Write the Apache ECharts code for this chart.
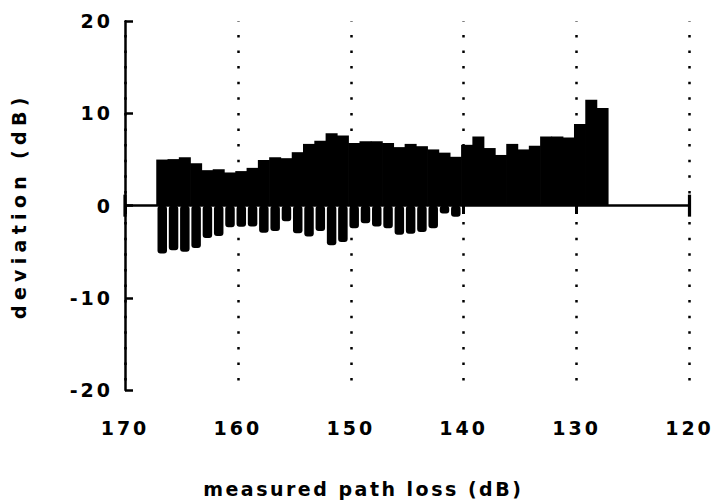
<!DOCTYPE html>
<html><head><meta charset="utf-8">
<script src="https://cdn.jsdelivr.net/npm/echarts@6/dist/echarts.min.js"></script>
<style>
html,body{margin:0;padding:0;background:#fff;}
#chart{width:717px;height:503px;}
#chart text{letter-spacing:3px;}
</style></head><body><div id="chart"></div>
<script>
// bin centres of measured path loss (dB)
const binCenters = [166.7,165.7,164.7,163.7,162.7,161.7,160.7,159.7,158.7,157.7,
  156.7,155.7,154.7,153.7,152.7,151.7,150.7,149.7,148.7,147.7,
  146.7,145.7,144.7,143.7,142.7,141.7,140.7,139.7,138.7,137.7,
  136.7,135.7,134.7,133.7,132.7,131.7,130.7,129.7,128.7,127.7];
// maximum deviation in each bin (dB)
const maxDeviation = [5.0,5.05,5.25,4.6,3.85,3.95,3.6,3.75,4.1,4.95,
  5.25,5.15,5.8,6.7,7.05,7.85,7.6,6.8,7.0,7.0,
  6.8,6.35,6.7,6.45,6.1,5.75,5.3,6.6,7.5,6.25,
  5.5,6.7,6.1,6.5,7.5,7.5,7.4,8.85,11.5,10.6];
// minimum deviation in each bin (dB)
const minDeviation = [-5.2,-4.85,-5.0,-4.6,-3.5,-3.3,-2.35,-2.3,-2.25,-2.95,
  -2.75,-1.7,-3.0,-3.35,-2.75,-4.3,-3.95,-2.45,-1.9,-2.25,
  -2.45,-3.15,-3.05,-2.85,-2.45,-0.85,-1.2,0,0,0,
  0,0,0,0,0,0,0,0,0,0];
const xTicks = [170,160,150,140,130,120];
const yTicks = [-20,-10,0,10,20];

const FONT = 'DejaVu Sans';
const xMin = Math.min(...xTicks), xMax = Math.max(...xTicks);
const yMin = Math.min(...yTicks), yMax = Math.max(...yTicks);
const black = '#000';
const GRID_TOP = 21.3, GRID_H = 372;

function applySpacing(){
  document.querySelectorAll('#chart text').forEach(function(t){
    if (t.textContent === 'deviation (dB)') t.style.letterSpacing = '5.3px';
    else if (t.textContent === 'measured path loss (dB)') t.style.letterSpacing = '2.5px';
  });
}

const chart = echarts.init(document.getElementById('chart'), null, {renderer:'svg'});
chart.on('rendered', applySpacing);
chart.on('finished', applySpacing);
const baseX = {type:'value', min:xMin, max:xMax, interval:10, inverse:true};
chart.setOption({
  animation:false,
  backgroundColor:'#fff',
  grid:{left:125, right:27.5, top:GRID_TOP, height:GRID_H},
  xAxis:[
    Object.assign({}, baseX, {
      position:'bottom',
      axisLine:{show:false, onZero:false},
      axisTick:{show:false},
      axisLabel:{show:true, color:black, fontFamily:FONT, fontWeight:'bold', fontSize:19, margin:28,
        showMinLabel:true, showMaxLabel:true},
      splitLine:{show:true, lineStyle:{color:black, width:2.5, type:[2.5,13.1], dashOffset:2}},
      name:'measured path loss (dB)', nameLocation:'middle', nameGap:89,
      nameTextStyle:{color:black, fontFamily:FONT, fontWeight:'bold', fontSize:19, padding:[0,88,0,0]}
    }),
    Object.assign({}, baseX, {
      position:'bottom', offset:-GRID_H/2,
      axisLine:{show:false, onZero:false},
      axisTick:{show:true, length:10, lineStyle:{color:black, width:3}},
      axisLabel:{show:false}, splitLine:{show:false}
    })
  ],
  yAxis:{
    type:'value', min:yMin, max:yMax, interval:10,
    axisLine:{show:true, onZero:false, lineStyle:{color:black, width:2.5}},
    axisTick:{show:true, inside:true, length:8, lineStyle:{color:black, width:2.5}},
    axisLabel:{color:black, fontFamily:FONT, fontWeight:'bold', fontSize:19, margin:12},
    splitLine:{show:false},
    name:'deviation (dB)', nameLocation:'middle', nameGap:97,
    nameTextStyle:{color:black, fontFamily:FONT, fontWeight:'bold', fontSize:19}
  },
  series:[
    {type:'bar', xAxisIndex:0, barWidth:12, itemStyle:{color:black},
     data:binCenters.map((x,i)=>[x, maxDeviation[i]]),
     markLine:{silent:true, symbol:['rect','rect'], symbolSize:[22,3.2],
       label:{show:false}, emphasis:{disabled:true},
       lineStyle:{color:black, width:2.5, type:'solid'},
       itemStyle:{color:black},
       data:[{yAxis:0}]}},
    {type:'bar', xAxisIndex:1, barWidth:9.5, itemStyle:{color:black, borderRadius:3},
     data:binCenters.map((x,i)=>[x, minDeviation[i]])}
  ]
});
try { chart.getZr().refreshImmediately(); } catch(e) {}
applySpacing();
setTimeout(applySpacing, 0);
setTimeout(applySpacing, 50);
</script></body></html>
